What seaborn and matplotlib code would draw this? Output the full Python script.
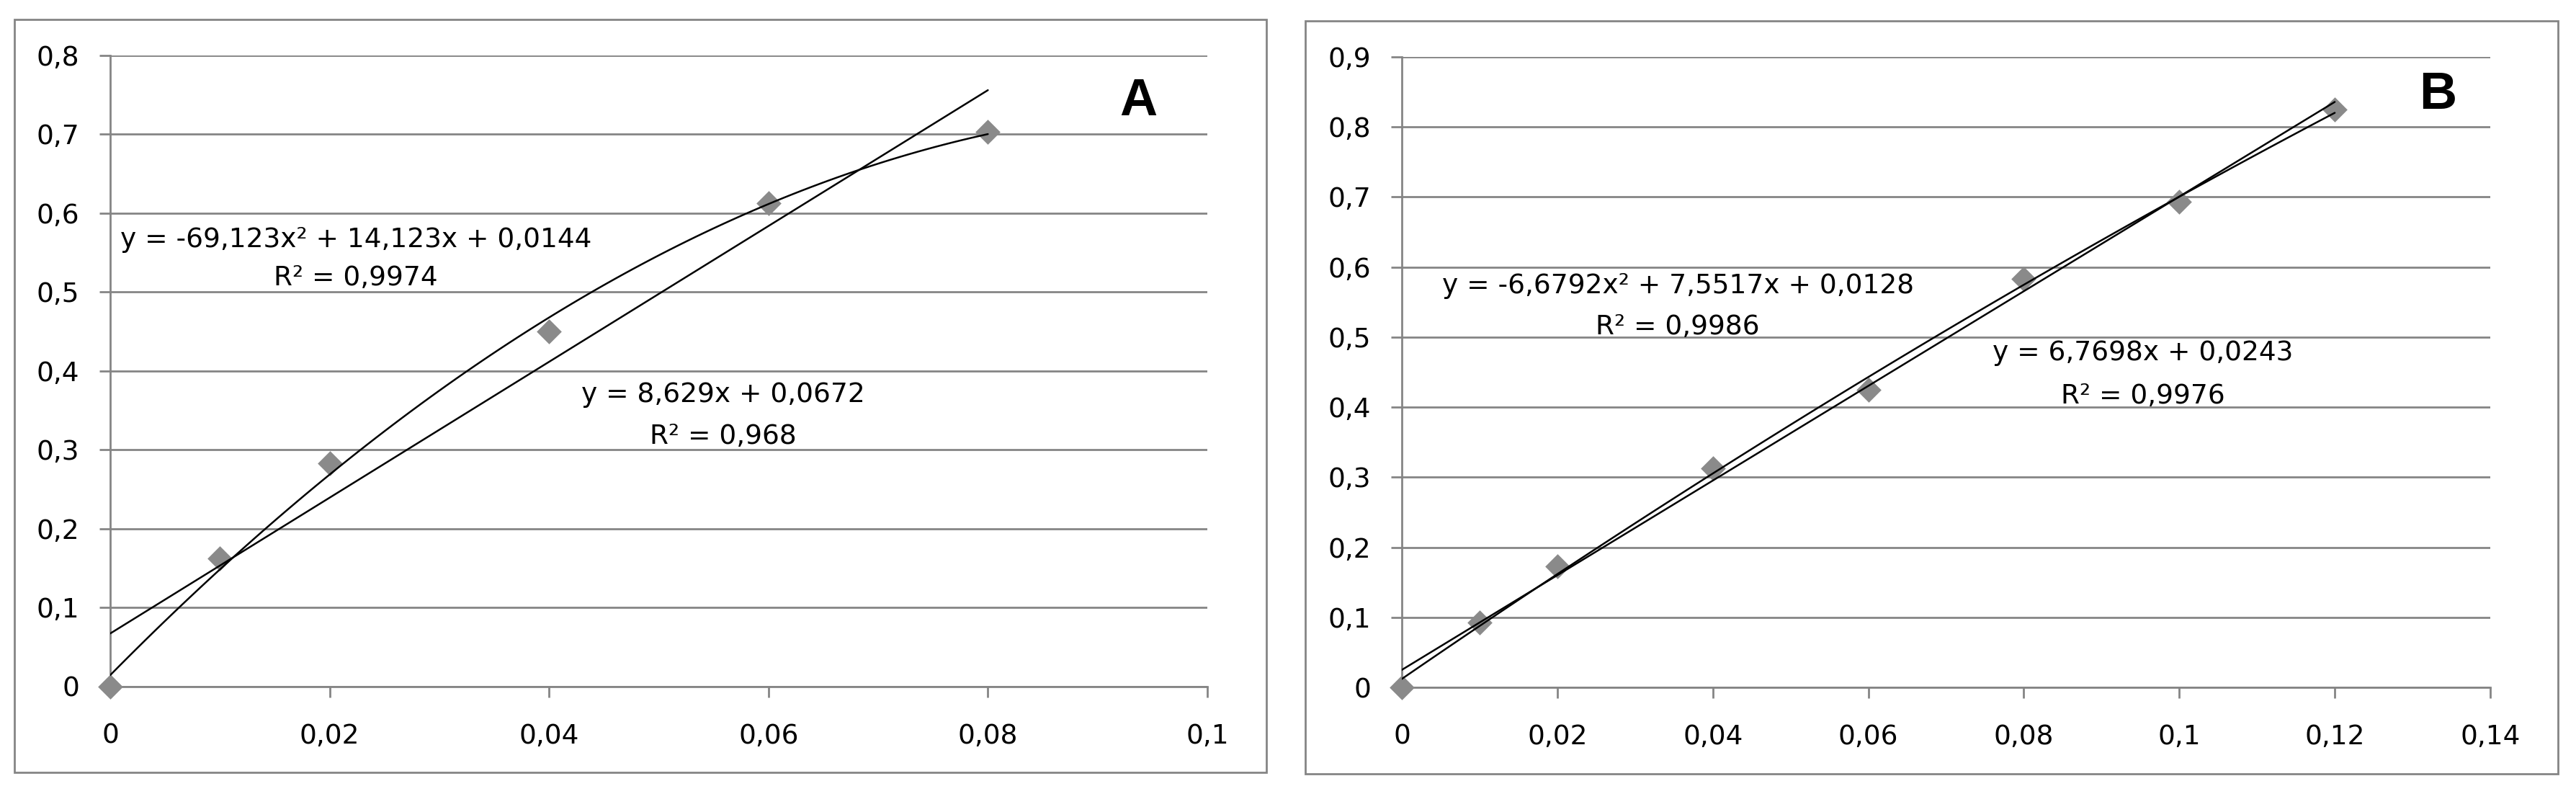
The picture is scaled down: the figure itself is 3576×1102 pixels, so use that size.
import numpy as np
import pandas as pd
import matplotlib
matplotlib.use("Agg")
import matplotlib.pyplot as plt
from matplotlib.patches import Rectangle
import seaborn as sns

# ---------------- data ----------------
# Panel A
a_x = [0.0, 0.01, 0.02, 0.04, 0.06, 0.08]
a_y = [0.0, 0.163, 0.283, 0.450, 0.613, 0.703]
a_xticks = [0, 0.02, 0.04, 0.06, 0.08, 0.1]
a_xlabels = ["0", "0,02", "0,04", "0,06", "0,08", "0,1"]
a_yticks = [0, 0.1, 0.2, 0.3, 0.4, 0.5, 0.6, 0.7, 0.8]
a_ylabels = ["0", "0,1", "0,2", "0,3", "0,4", "0,5", "0,6", "0,7", "0,8"]
a_quad_eq = "y = -69,123x² + 14,123x + 0,0144"
a_quad_r2 = "R² = 0,9974"
a_lin_eq = "y = 8,629x + 0,0672"
a_lin_r2 = "R² = 0,968"
a_letter = "A"

# Panel B
b_x = [0.0, 0.01, 0.02, 0.04, 0.06, 0.08, 0.10, 0.12]
b_y = [0.0, 0.093, 0.173, 0.313, 0.425, 0.583, 0.693, 0.825]
b_xticks = [0, 0.02, 0.04, 0.06, 0.08, 0.1, 0.12, 0.14]
b_xlabels = ["0", "0,02", "0,04", "0,06", "0,08", "0,1", "0,12", "0,14"]
b_yticks = [0, 0.1, 0.2, 0.3, 0.4, 0.5, 0.6, 0.7, 0.8, 0.9]
b_ylabels = ["0", "0,1", "0,2", "0,3", "0,4", "0,5", "0,6", "0,7", "0,8", "0,9"]
b_quad_eq = "y = -6,6792x² + 7,5517x + 0,0128"
b_quad_r2 = "R² = 0,9986"
b_lin_eq = "y = 6,7698x + 0,0243"
b_lin_r2 = "R² = 0,9976"
b_letter = "B"

# ---------------- style ----------------
sns.set_style("white")
plt.rcParams["font.family"] = ["DejaVu Sans"]
GREY = "#858585"
MARK = "#8a8a8a"
FS = 13.5

fig = plt.figure(figsize=(17.88, 5.51), dpi=200)

# outer chart borders (Excel chart areas)
for (x0, y0, x1, y1) in [(0.00559, 0.02722, 0.49161, 0.97550),
                         (0.50671, 0.02541, 0.99301, 0.97368)]:
    fig.add_artist(Rectangle((x0, y0), x1 - x0, y1 - y0, transform=fig.transFigure,
                             fill=False, edgecolor=GREY, lw=1.0))

axA = fig.add_axes([0.04279, 0.13521, 0.42589, 0.79492])
axB = fig.add_axes([0.54418, 0.13430, 0.42254, 0.79401])


def draw(ax, x, y, xticks, xlabels, yticks, ylabels, texts, letter, letter_pos):
    df = pd.DataFrame({"x": x, "y": y})
    sns.scatterplot(data=df, x="x", y="y", marker="D", s=78, color=MARK,
                    linewidth=0, ax=ax, zorder=3, clip_on=False)
    sns.regplot(data=df, x="x", y="y", order=2, ci=None, scatter=False,
                truncate=True, ax=ax,
                line_kws=dict(color="black", lw=0.9, zorder=4))
    sns.regplot(data=df, x="x", y="y", order=1, ci=None, scatter=False,
                truncate=True, ax=ax,
                line_kws=dict(color="black", lw=0.9, zorder=4))
    ax.set_xlabel("")
    ax.set_ylabel("")
    ax.set_xlim(xticks[0], xticks[-1])
    ax.set_ylim(yticks[0], yticks[-1])
    ax.set_xticks(xticks, xlabels)
    ax.set_yticks(yticks, ylabels)
    ax.set_axisbelow(True)
    ax.yaxis.grid(True, color=GREY, lw=1.0)
    ax.xaxis.grid(False)
    for s in ["top", "right"]:
        ax.spines[s].set_visible(False)
    for s in ["left", "bottom"]:
        ax.spines[s].set_color(GREY)
        ax.spines[s].set_linewidth(1.0)
    ax.tick_params(axis="both", which="major", direction="out", length=5.4,
                   width=1.0, color=GREY, labelsize=FS, labelcolor="black",
                   bottom=True, left=True)
    ax.tick_params(axis="y", pad=10)
    ax.tick_params(axis="x", pad=12.8)
    for (tx, ty, s) in texts:
        ax.text(tx, ty, s, ha="center", va="baseline", fontsize=FS,
                color="black", zorder=5)
    ax.text(letter_pos[0], letter_pos[1], letter, ha="center", va="baseline",
            fontsize=26, fontweight="bold", family=["Liberation Sans", "DejaVu Sans"],
            color="black")


draw(axA, a_x, a_y, a_xticks, a_xlabels, a_yticks, a_ylabels,
     [(0.0224, 0.557, a_quad_eq), (0.0224, 0.509, a_quad_r2),
      (0.0559, 0.361, a_lin_eq), (0.0559, 0.308, a_lin_r2)],
     a_letter, (0.0937, 0.7245))

draw(axB, b_x, b_y, b_xticks, b_xlabels, b_yticks, b_ylabels,
     [(0.0355, 0.5626, b_quad_eq), (0.0355, 0.504, b_quad_r2),
      (0.0953, 0.467, b_lin_eq), (0.0953, 0.405, b_lin_r2)],
     b_letter, (0.1333, 0.826))

fig.savefig("out.png", dpi=200, facecolor="white")
